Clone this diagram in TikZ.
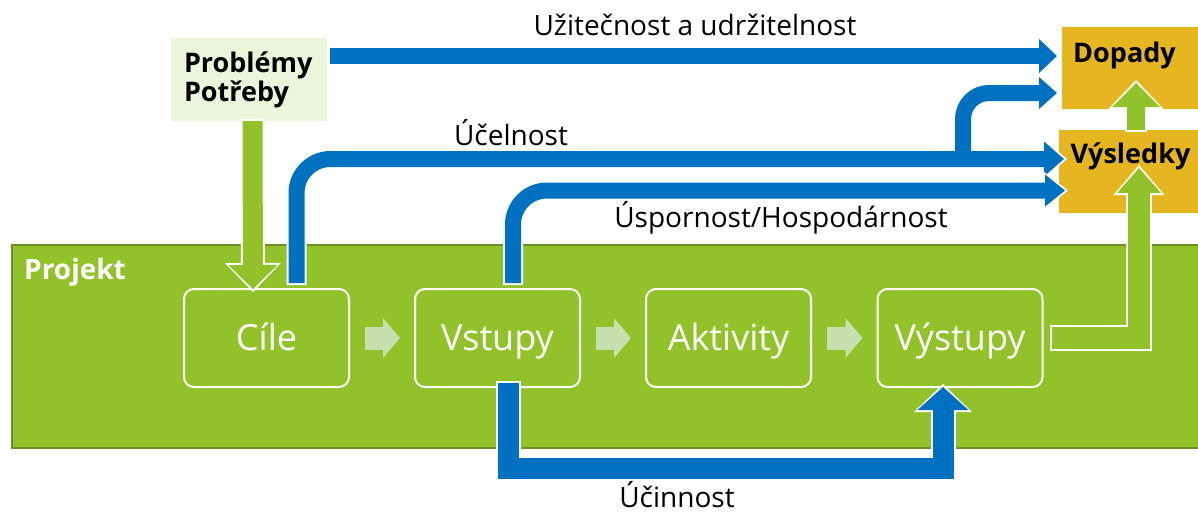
\documentclass[tikz,border=0pt]{standalone}
\usepackage{fontspec}
\setmainfont{Open Sans}
\usetikzlibrary{arrows.meta,calc}
\definecolor{pgreen}{HTML}{92C229}
\definecolor{pdark}{HTML}{6E9022}
\definecolor{pblue}{HTML}{0070C0}
\definecolor{pgold}{HTML}{E5B620}
\definecolor{plight}{HTML}{EBF5DA}
\definecolor{parrow}{HTML}{C8DFB0}
\begin{document}
\begin{tikzpicture}[x=1pt,y=-1pt,
  stagebox/.style={draw=white, line width=2pt, rounded corners=10pt, outer sep=0pt,
    minimum width=165pt, minimum height=98pt, text height=30pt, text depth=6pt,
    text=white, font=\fontsize{36}{40}\selectfont},
  goldbox/.style={fill=pgold, outer sep=0pt, inner sep=0pt},
  goldtext/.style={anchor=base, inner sep=0pt, font=\fontsize{27}{30}\selectfont\bfseries},
  lbl/.style={anchor=base, inner sep=0pt, font=\fontsize{28}{30}\selectfont},
  blk/.style n args={4}{draw=#4, line width=#1, -{Triangle[length=#2,width=#3,line width=0pt]}},
  ol/.style n args={3}{preaction={draw=white, line width=#1, -{Triangle[length=#2,width=#3,line width=0pt]}, shorten >=-3pt, shorten <=-2pt}},
  stepar/.style={draw=parrow, line width=23pt, -{Triangle[length=17pt,width=40pt,line width=0pt]}}
]
\useasboundingbox (0,0) rectangle (1198,512);
\clip (0,0) rectangle (1198,512);

% project area
\node[draw=pdark, fill=pgreen, line width=2pt, outer sep=0pt, inner sep=0pt,
      minimum width=1203pt, minimum height=203pt, anchor=north west] (proj) at (12,245) {};
\node[anchor=base west, text=white, inner sep=0pt, font=\fontsize{28}{30}\selectfont\bfseries] (projt) at (24,279) {Projekt};

% stages
\node[stagebox] (cile) at (266.5,338) {Cíle};
\node[stagebox] (vst) at (497.5,338) {Vstupy};
\node[stagebox] (akt) at (728.5,338) {Aktivity};
\node[stagebox] (vys) at (960,338) {Výstupy};

\draw[stepar] ([xshift=16]cile.east) -- ([xshift=-15]vst.west);
\draw[stepar] ([xshift=16]vst.east) -- ([xshift=-15]akt.west);
\draw[stepar] ([xshift=16]akt.east) -- ([xshift=-15]vys.west);

% problems box
\node[fill=plight, outer sep=0pt, minimum width=156pt, minimum height=83pt, text width=130pt,
      align=left, font=\fontsize{27}{29}\selectfont\bfseries] (prob) at (249,79.5) {Problémy\\Potřeby};

% result boxes
\node[goldbox, minimum width=136pt, minimum height=82pt] (dop) at (1130,68) {};
\node[goldtext] (dopt) at (1124.5,62) {Dopady};
\node[goldbox, minimum width=139pt, minimum height=83pt] (vsl) at (1128.5,171.5) {};
\node[goldtext] (vslt) at (1130.5,163) {Výsledky};

% blue connectors
\draw[blk={16pt}{18pt}{34pt}{pblue}] ([shift={(3,18)}]prob.north east) -- ([shift={(-5,-12)}]dop.west);
\draw[blk={16pt}{20pt}{35pt}{pblue}, ol={20pt}{25pt}{42pt}, rounded corners=34pt]
  ([shift={(30,-6)}]cile.north) |- ([shift={(5,-12.5)}]vsl.west);
\coordinate (br) at (963,159);
\draw[blk={16pt}{18pt}{32pt}{pblue}, rounded corners=26pt] (br) |- ([shift={(-5,25)}]dop.west);
\draw[blk={16pt}{20pt}{32pt}{pblue}, ol={20pt}{25pt}{39pt}, rounded corners=34pt]
  ([shift={(15.5,-6)}]vst.north) |- ([shift={(6,19)}]vsl.west);
\draw[blk={21pt}{23pt}{51pt}{pblue}, ol={25pt}{28pt}{58pt}]
  ([shift={(11,-4)}]vst.south) -- ++(0,85) -| ([xshift=-17]vys.south);

% green block arrows
\draw[blk={20pt}{24pt}{49pt}{pgreen}, ol={24pt}{29pt}{56pt}] ([xshift=3.5]prob.south) -- ([xshift=-13.5]cile.north);
\draw[blk={18pt}{24pt}{48pt}{pgreen}, ol={22pt}{29pt}{55pt}] ([xshift=7.5]vsl.north) -- ([shift={(6,-26)}]dop.south);
\draw[blk={22pt}{25pt}{44pt}{pgreen}, ol={26pt}{30pt}{51pt}] ([xshift=9]vys.east) -| ([shift={(10.5,-45)}]vsl.south);

% labels
\node[lbl] (l1) at (695,35) {Užitečnost a udržitelnost};
\node[lbl] (l2) at (511,145) {Účelnost};
\node[lbl] (l3) at (781,227) {Úspornost/Hospodárnost};
\node[lbl] (l4) at (677,507) {Účinnost};
\end{tikzpicture}
\end{document}
